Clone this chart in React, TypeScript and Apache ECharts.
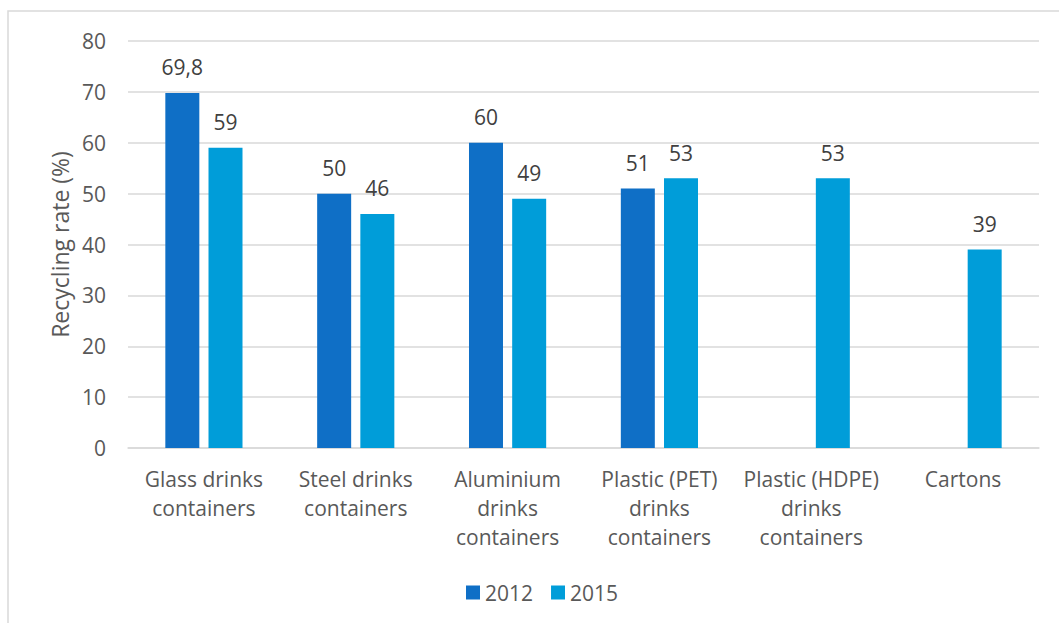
import React, { useEffect, useRef } from "react";
import * as echarts from "echarts";

const categories = [
  "Glass drinks\ncontainers",
  "Steel drinks\ncontainers",
  "Aluminium\ndrinks\ncontainers",
  "Plastic (PET)\ndrinks\ncontainers",
  "Plastic (HDPE)\ndrinks\ncontainers",
  "Cartons",
];
const values2012: (number | null)[] = [69.8, 50, 60, 51, null, null];
const values2015: (number | null)[] = [59, 46, 49, 53, 53, 39];
const yTicks = { min: 0, max: 80, interval: 10 };

const FONT = "'Open Sans', sans-serif";
const TEXT = "#595959";
const GRID = "#D9D9D9";
const FS = 21;

export default function App() {
  const ref = useRef<HTMLDivElement>(null);
  useEffect(() => {
    if (!ref.current) return;
    const chart = echarts.init(ref.current, undefined, { renderer: "svg" });
    const labelCfg = {
      show: true,
      position: "top",
      distance: 15,
      fontFamily: FONT,
      fontSize: FS,
      lineHeight: 21,
      color: "#404040",
      formatter: (p: any) => String(p.value).replace(".", ","),
    };
    chart.setOption({
      animation: false,
      backgroundColor: "#ffffff",
      textStyle: { fontFamily: FONT },
      graphic: [
        {
          type: "rect",
          shape: { x: 8, y: 11, width: 1200, height: 800 },
          style: { fill: "none", stroke: GRID, lineWidth: 1.5 },
          silent: true,
        },
      ],
      grid: { left: 128, right: 20, top: 41, bottom: 175 },
      legend: {
        top: 577,
        left: 461,
        itemWidth: 14,
        itemHeight: 14,
        itemGap: 18,
        icon: "rect",
        textStyle: { fontFamily: FONT, fontSize: FS, color: TEXT },
        data: ["2012", "2015"],
      },
      xAxis: {
        type: "category",
        data: categories,
        axisLine: { lineStyle: { color: GRID, width: 1.5 } },
        axisTick: { show: false },
        axisLabel: {
          interval: 0,
          fontFamily: FONT,
          fontSize: FS,
          lineHeight: 29,
          color: TEXT,
          margin: 16,
        },
      },
      yAxis: {
        type: "value",
        min: yTicks.min,
        max: yTicks.max,
        interval: yTicks.interval,
        name: "Recycling rate (%)",
        nameLocation: "middle",
        nameGap: 57,
        nameRotate: 90,
        nameTextStyle: { fontFamily: FONT, fontSize: 23, color: TEXT },
        axisLine: { show: false },
        axisTick: { show: false },
        axisLabel: { fontFamily: FONT, fontSize: FS, color: TEXT, margin: 22 },
        splitLine: { lineStyle: { color: GRID, width: 1.5 } },
      },
      series: [
        {
          name: "2012",
          type: "bar",
          data: values2012,
          barWidth: 34,
          barGap: "27%",
          itemStyle: { color: "#0F6FC6" },
          label: labelCfg,
        },
        {
          name: "2015",
          type: "bar",
          data: values2015,
          barWidth: 34,
          barGap: "27%",
          itemStyle: { color: "#009DD9" },
          label: labelCfg,
        },
      ],
    });
    return () => chart.dispose();
  }, []);
  return (
    <div
      ref={ref}
      style={{ position: "fixed", left: 0, top: 0, width: 1059, height: 623 }}
    />
  );
}
